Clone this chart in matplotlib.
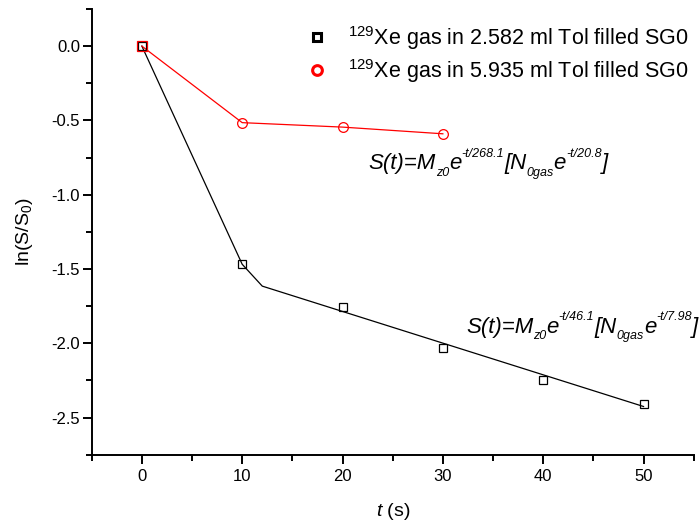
import matplotlib
matplotlib.use("Agg")
import matplotlib.pyplot as plt
from matplotlib.lines import Line2D
from matplotlib.ticker import MultipleLocator, FormatStrFormatter

plt.rcParams['font.family'] = ['Liberation Sans', 'DejaVu Sans']
plt.rcParams['mathtext.fontset'] = 'custom'
plt.rcParams['mathtext.rm'] = 'Liberation Sans'
plt.rcParams['mathtext.it'] = 'Liberation Sans:italic'
plt.rcParams['axes.unicode_minus'] = False

# measured points
t_a = [0, 10, 20, 30, 40, 50]
ln_a = [0.0, -1.468, -1.756, -2.03, -2.248, -2.41]
t_b = [0, 10, 20, 30]
ln_b = [0.0, -0.515, -0.545, -0.59]

# fitted curves
fit_t_a = [0, 10, 12, 50]
fit_a = [0.0, -1.468, -1.615, -2.425]
fit_t_b = [0, 10, 20, 30]
fit_b = [0.0, -0.515, -0.545, -0.59]

label_a = r'$^{129}$Xe gas in 2.582 ml Tol filled SG0'
label_b = r'$^{129}$Xe gas in 5.935 ml Tol filled SG0'

# fit equations as (text, role) pieces: 'n' normal, 'sub' subscript, 'sup' superscript
eq_b = [('S(t)=M', 'n'), ('z0', 'sub'), ('e', 'n'), ('-t/268.1', 'sup'),
        ('[N', 'n'), ('0gas', 'sub'), ('e', 'n'), ('-t/20.8', 'sup'), (']', 'n')]
eq_a = [('S(t)=M', 'n'), ('z0', 'sub'), ('e', 'n'), ('-t/46.1', 'sup'),
        ('[N', 'n'), ('0gas', 'sub'), ('e', 'n'), ('-t/7.98', 'sup'), (']', 'n')]

fig = plt.figure(figsize=(7.0, 5.27), dpi=100)
ax = fig.add_axes([0.131, 0.137, 0.86, 0.846])

ax.plot(fit_t_a, fit_a, color='black', lw=0.9)
ax.plot(fit_t_b, fit_b, color='red', lw=0.9)
ax.plot(t_a, ln_a, ls='none', marker='s', ms=6.3, mfc='none', mec='black', mew=0.9)
ax.plot(t_b[1:], ln_b[1:], ls='none', marker='o', ms=7, mfc='none', mec='red', mew=0.9)
ax.plot(t_b[:1], ln_b[:1], ls='none', marker='s', ms=6.8, mfc='none', mec='red', mew=0.9)

ax.set_xlim(-5, 55)
ax.set_ylim(-2.75, 0.25)
ax.xaxis.set_major_locator(MultipleLocator(10))
ax.xaxis.set_minor_locator(MultipleLocator(5))
ax.yaxis.set_major_locator(MultipleLocator(0.5))
ax.yaxis.set_minor_locator(MultipleLocator(0.25))
ax.yaxis.set_major_formatter(FormatStrFormatter('%.1f'))
ax.spines['top'].set_visible(False)
ax.spines['right'].set_visible(False)
for s in ('left', 'bottom'):
    ax.spines[s].set_linewidth(1.4)
ax.tick_params(which='major', direction='out', length=6.5, width=1.4, labelsize=12)
ax.tick_params(axis='x', which='major', pad=4)
ax.tick_params(axis='y', which='major', pad=2)
ax.tick_params(which='minor', direction='out', length=4.5, width=1.4)

ax.set_xlabel(r'$\mathit{t}$ (s)', fontsize=14, labelpad=12)
ax.set_ylabel(r'ln(S/S$_\mathit{0}$)', fontsize=14, labelpad=12)

handles = [
    Line2D([], [], ls='none', marker='s', ms=6, mfc='none', mec='black', mew=2.2),
    Line2D([], [], ls='none', marker='o', ms=7, mfc='none', mec='red', mew=2.2),
]
fig.legend(handles, [label_a, label_b], loc='upper right',
           bbox_to_anchor=(0.984, 0.955), bbox_transform=fig.transFigure,
           frameon=False, fontsize=15.5, borderpad=0, borderaxespad=0,
           handlelength=1.0, handletextpad=0.95, labelspacing=0.25)


def draw_equation(x, y, pieces, size=16, small=9):
    """Lay out italic text pieces one after another from the data point (x, y)."""
    renderer = fig.canvas.get_renderer()
    shift = {'n': 0.0, 'sub': -4.5, 'sup': 9.0}
    xoff = 0.0
    for text, role in pieces:
        fs = size if role == 'n' else small
        t = ax.annotate(text, (x, y), xycoords='data', xytext=(xoff, shift[role]),
                        textcoords='offset points', fontsize=fs, style='italic',
                        ha='left', va='baseline')
        xoff += t.get_window_extent(renderer).width * 72.0 / fig.dpi


draw_equation(22.6, -0.83, eq_b)
draw_equation(32.3, -1.93, eq_a)

fig.savefig('out.png', dpi=100)
